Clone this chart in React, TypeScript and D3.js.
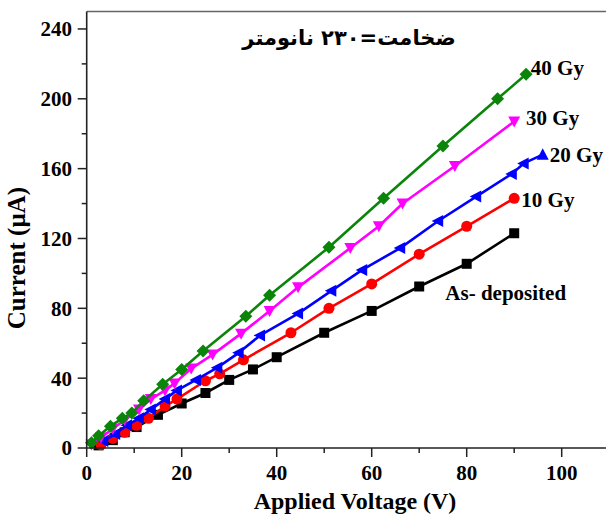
import { line as d3Line, scaleLinear, range } from "d3";

// data
const asDepX = [2.5, 5.5, 8, 10.5, 15, 20, 25, 30, 35, 40, 50, 60, 70, 80, 90];
const asDepY = [1.5, 4.5, 9, 12, 19, 25.5, 31.5, 39, 45, 52, 66, 78.5, 92.5, 105.5, 123];

const gy10X = [3, 5.5, 8, 10.5, 13, 16.5, 19, 25, 28, 33, 43, 51, 60, 70, 80, 90];
const gy10Y = [2, 5.5, 9, 13, 17, 24, 28, 38.5, 42.5, 50.5, 66, 80, 94, 111, 127, 143];

const gy20X = [3.5, 6, 8.5, 11, 13.5, 16.5, 19, 23, 27.5, 32, 36.5, 44.5, 51.5, 58, 66, 74, 82, 89.5, 92, 96];
const gy20Y = [4, 8, 13, 17, 22, 28, 33, 39, 46, 54.5, 64.5, 77, 90, 102, 114.5, 130, 144, 157, 163, 168];

const gy30X = [1, 3, 5.5, 8, 11, 13.5, 16.5, 18.5, 22, 26.5, 32.5, 38.5, 44.5, 55.5, 61.5, 66.5, 77.5, 90];
const gy30Y = [2, 6, 11, 16, 22, 28, 33, 37, 45.5, 53.5, 65.5, 78.5, 92, 114.5, 127, 140, 161.5, 187];

const gy40X = [1, 2.5, 5, 7.5, 9.5, 12, 16, 20, 24.5, 33.5, 38.5, 51, 62.5, 75, 86.5, 92.5];
const gy40Y = [3, 7, 12.5, 17, 20, 27, 36.5, 45, 55.5, 75.5, 87.5, 115, 143, 173, 200, 214];

const seriesNames = ["As- deposited", "10 Gy", "20 Gy", "30 Gy", "40 Gy"];
const xTicks = [0, 20, 40, 60, 80, 100];
const yTicks = [0, 40, 80, 120, 160, 200, 240];
const title = "ضخامت=۲۳۰ نانومتر";

const W = 606;
const H = 517;
const FONT = "'Liberation Serif', 'Times New Roman', serif";

type Sym = "square" | "circle" | "left" | "down" | "diamond";

const series: { name: string; xs: number[]; ys: number[]; color: string; sym: Sym }[] = [
  { name: seriesNames[0], xs: asDepX, ys: asDepY, color: "#000000", sym: "square" },
  { name: seriesNames[1], xs: gy10X, ys: gy10Y, color: "#ff0000", sym: "circle" },
  { name: seriesNames[2], xs: gy20X, ys: gy20Y, color: "#0000ff", sym: "left" },
  { name: seriesNames[3], xs: gy30X, ys: gy30Y, color: "#ff00ff", sym: "down" },
  { name: seriesNames[4], xs: gy40X, ys: gy40Y, color: "#0a850a", sym: "diamond" },
];

// label anchor positions (data units) for the series names
const labelPos: [number, number][] = [
  [75.5, 89],
  [91.5, 142],
  [97.5, 168],
  [92.5, 189],
  [93.5, 218],
];

const Marker = ({ x, y, sym, color, last }: { x: number; y: number; sym: Sym; color: string; last: boolean }) => {
  if (sym === "square") return <rect x={x - 5} y={y - 5} width={10} height={10} fill={color} />;
  if (sym === "circle") return <circle cx={x} cy={y} r={5.5} fill={color} />;
  if (sym === "diamond")
    return <path d={`M${x},${y - 6.5}L${x + 6.5},${y}L${x},${y + 6.5}L${x - 6.5},${y}Z`} fill={color} />;
  if (sym === "down")
    return <path d={`M${x - 6},${y - 5}L${x + 6},${y - 5}L${x},${y + 6}Z`} fill={color} />;
  if (last) return <path d={`M${x},${y - 6.5}L${x + 6},${y + 5}L${x - 6},${y + 5}Z`} fill={color} />;
  return <path d={`M${x - 6.5},${y}L${x + 5},${y - 6}L${x + 5},${y + 6}Z`} fill={color} />;
};

export default function App() {
  const x = scaleLinear().domain([0, 110]).range([86.7, 609.2]);
  const y = scaleLinear().domain([0, 250]).range([448, 11.5]);
  const x0 = x(0);
  const y0 = y(0);

  const minorX = range(10, 110, 20);
  const minorY = range(20, 250, 40);

  return (
    <>
      <style>{`body{margin:0;overflow:hidden}`}</style>
      <svg width={W} height={H} style={{ display: "block", background: "#fff" }}>
        {/* top frame */}
        <line x1={x0} x2={W} y1={y(250)} y2={y(250)} stroke="#666" strokeWidth={1.5} />

        {series.map((s) => {
          const pts = s.xs.map((v, i) => [x(v), y(s.ys[i])] as [number, number]);
          const path = d3Line()(pts) ?? "";
          return (
            <g key={s.name}>
              <path d={path} fill="none" stroke={s.color} strokeWidth={2.6} strokeLinejoin="round" />
              {pts.map((p, i) => (
                <Marker key={i} x={p[0]} y={p[1]} sym={s.sym} color={s.color} last={i === pts.length - 1} />
              ))}
            </g>
          );
        })}

        {/* axes */}
        <line x1={x0} x2={x0} y1={y(250)} y2={y0} stroke="#222" strokeWidth={1.6} />
        <line x1={x0} x2={W} y1={y0} y2={y0} stroke="#222" strokeWidth={1.6} />

        {yTicks.map((t) => (
          <g key={t}>
            <line x1={x0 - 9} x2={x0} y1={y(t)} y2={y(t)} stroke="#222" strokeWidth={1.5} />
            <text x={72} y={y(t)} dy="0.35em" textAnchor="end" fontFamily={FONT} fontWeight="bold" fontSize={21}>
              {t}
            </text>
          </g>
        ))}
        {minorY.map((t) => (
          <line key={t} x1={x0 - 5} x2={x0} y1={y(t)} y2={y(t)} stroke="#222" strokeWidth={1.5} />
        ))}

        {xTicks.map((t) => (
          <g key={t}>
            <line x1={x(t)} x2={x(t)} y1={y0} y2={y0 + 9} stroke="#222" strokeWidth={1.5} />
            <text x={x(t)} y={480} textAnchor="middle" fontFamily={FONT} fontWeight="bold" fontSize={21}>
              {t}
            </text>
          </g>
        ))}
        {minorX.map((t) => (
          <line key={t} x1={x(t)} x2={x(t)} y1={y0} y2={y0 + 5} stroke="#222" strokeWidth={1.5} />
        ))}

        <text
          transform={`translate(25,${258}) rotate(-90)`}
          textAnchor="middle"
          fontFamily={FONT}
          fontWeight="bold"
          fontSize={25}
        >
          Current (µA)
        </text>
        <text x={355} y={509} textAnchor="middle" fontFamily={FONT} fontWeight="bold" fontSize={24}>
          Applied Voltage (V)
        </text>

        {series.map((s, i) => (
          <text
            key={s.name}
            x={x(labelPos[i][0])}
            y={y(labelPos[i][1])}
            dy="0.35em"
            fontFamily={FONT}
            fontWeight="bold"
            fontSize={21}
          >
            {s.name}
          </text>
        ))}

        <text
          x={349}
          y={38}
          dy="0.35em"
          textAnchor="middle"
          direction="rtl"
          fontFamily="'DejaVu Sans', sans-serif"
          fontWeight="bold"
          fontSize={21}
        >
          {title}
        </text>
      </svg>
    </>
  );
}
